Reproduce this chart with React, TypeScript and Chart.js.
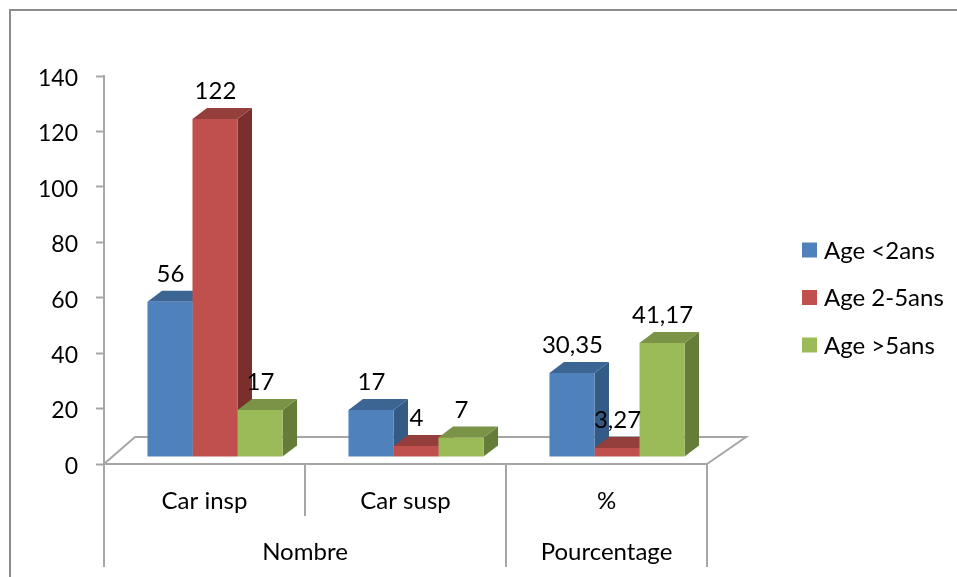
import React, { useEffect, useRef } from "react";
import { Chart, registerables } from "chart.js";

Chart.register(...registerables);

const categories = ["Car insp", "Car susp", "%"];
const groupLabels = ["Nombre", "Pourcentage"];
const groupSpans = [2, 1];
const yTicks = [0, 20, 40, 60, 80, 100, 120, 140];
const ageUnder2 = [56, 17, 30.35];
const age2to5 = [122, 4, 3.27];
const ageOver5 = [17, 7, 41.17];
const seriesNames = ["Age <2ans", "Age 2-5ans", "Age >5ans"];
const frontColors = ["#4f81bd", "#c0504d", "#9bbb59"];
const topColors = ["#3c6594", "#943f3c", "#7a9346"];
const sideColors = ["#345a86", "#7b2f2d", "#667d3a"];

const FONT = "Lato, Carlito, sans-serif";
const AXIS = "#a6a6a6";
const SHIFT_X = 10.5;
const SHIFT_Y = -7;
const DEPTH_X = 14.5;
const DEPTH_Y = -11;
const FLOOR_BACK_LEFT = 31;
const FLOOR_BACK_RIGHT = 39;
const FLOOR_Y = -27;

const fill = (ctx: CanvasRenderingContext2D, pts: number[][], color: string) => {
  ctx.beginPath();
  pts.forEach(([x, y], i) => (i ? ctx.lineTo(x, y) : ctx.moveTo(x, y)));
  ctx.closePath();
  ctx.fillStyle = color;
  ctx.fill();
};

const stroke = (ctx: CanvasRenderingContext2D, pts: number[][], color: string, w = 2) => {
  ctx.beginPath();
  pts.forEach(([x, y], i) => (i ? ctx.lineTo(x, y) : ctx.moveTo(x, y)));
  ctx.strokeStyle = color;
  ctx.lineWidth = w;
  ctx.stroke();
};

const threeD = {
  id: "threeD",
  beforeDatasetsDraw(chart: any) {
    const { ctx, chartArea: a, scales } = chart;
    const b = scales.y.getPixelForValue(0);
    ctx.save();
    // floor of the 3D plot
    stroke(
      ctx,
      [
        [a.left, b],
        [a.left + FLOOR_BACK_LEFT, b + FLOOR_Y],
        [a.right + FLOOR_BACK_RIGHT, b + FLOOR_Y],
        [a.right, b],
      ],
      AXIS,
    );
    ctx.translate(SHIFT_X, SHIFT_Y);
    const n = chart.data.labels.length;
    for (let c = 0; c < n; c++) {
      chart.data.datasets.forEach((_: any, d: number) => {
        const el = chart.getDatasetMeta(d).data[c];
        const l = el.x - el.width / 2;
        const r = el.x + el.width / 2;
        const t = el.y;
        const bot = el.base;
        fill(
          ctx,
          [
            [r, t],
            [r + DEPTH_X, t + DEPTH_Y],
            [r + DEPTH_X, bot + DEPTH_Y],
            [r, bot],
          ],
          sideColors[d],
        );
        fill(
          ctx,
          [
            [l, t],
            [l + DEPTH_X, t + DEPTH_Y],
            [r + DEPTH_X, t + DEPTH_Y],
            [r, t],
          ],
          topColors[d],
        );
      });
    }
    // fronts are the library's own bars, drawn in this shifted space
  },
  afterDatasetsDraw(chart: any) {
    const { ctx, chartArea: a, scales } = chart;
    ctx.restore();
    ctx.save();
    ctx.font = `24px ${FONT}`;
    ctx.textAlign = "center";
    ctx.textBaseline = "alphabetic";
    ctx.fillStyle = "#000";
    chart.data.datasets.forEach((ds: any, d: number) => {
      chart.getDatasetMeta(d).data.forEach((el: any, i: number) => {
        const txt = String(ds.data[i]).replace(".", ",");
        ctx.fillText(txt, el.x + SHIFT_X + 0.5, el.y + SHIFT_Y + DEPTH_Y - 8.5);
      });
    });

    // multi-level category axis
    const bottom = 567;
    const step = (a.right - a.left) / categories.length;
    const b = scales.y.getPixelForValue(0);
    let idx = 0;
    stroke(ctx, [[a.left, b], [a.left, bottom]], AXIS);
    groupLabels.forEach((g, i) => {
      const x0 = a.left + idx * step;
      const x1 = a.left + (idx + groupSpans[i]) * step;
      for (let k = 1; k < groupSpans[i]; k++) {
        const xk = x0 + k * step;
        stroke(ctx, [[xk, b], [xk, 516]], AXIS);
      }
      stroke(ctx, [[x1, b], [x1, bottom]], AXIS);
      ctx.textBaseline = "middle";
      ctx.fillText(g, (x0 + x1) / 2, 552);
      idx += groupSpans[i];
    });

    // legend
    ctx.textAlign = "left";
    chart.data.datasets.forEach((ds: any, d: number) => {
      const cy = 250 + d * 47.5;
      ctx.fillStyle = frontColors[d];
      ctx.fillRect(802, cy - 7.5, 15, 15);
      ctx.fillStyle = "#000";
      ctx.fillText(ds.label, 824, cy + 1);
    });
    ctx.restore();

    // outer frame
    ctx.save();
    stroke(ctx, [[10, 577], [10, 10], [957, 10]], "#8c8c8c");
    ctx.restore();
  },
};

export default function App() {
  const ref = useRef<HTMLCanvasElement>(null);
  useEffect(() => {
    const chart = new Chart(ref.current!, {
      type: "bar",
      data: {
        labels: categories,
        datasets: [ageUnder2, age2to5, ageOver5].map((data, i) => ({
          label: seriesNames[i],
          data,
          backgroundColor: frontColors[i],
          borderWidth: 0,
          categoryPercentage: 0.672,
          barPercentage: 1,
        })),
      },
      options: {
        responsive: false,
        animation: false,
        layout: { padding: { top: 76, right: 250, left: 0, bottom: 0 } },
        plugins: { legend: { display: false }, title: { display: false }, tooltip: { enabled: false } },
        scales: {
          x: {
            afterFit: (s: any) => {
              s.height = 113;
            },
            grid: { display: false, drawTicks: false },
            border: { color: AXIS, width: 2 },
            ticks: { color: "#000", font: { family: FONT, size: 24 }, padding: 23, maxRotation: 0 },
          },
          y: {
            min: 0,
            max: 140,
            afterFit: (s: any) => {
              s.width = 104;
            },
            afterBuildTicks: (s: any) => {
              s.ticks = yTicks.map((value) => ({ value }));
            },
            grid: { drawOnChartArea: false, color: AXIS, tickLength: 8, tickWidth: 2 },
            border: { color: AXIS, width: 2 },
            ticks: { color: "#000", font: { family: FONT, size: 23 }, padding: 18, labelOffset: 2.5 },
          },
        },
      },
      plugins: [threeD],
    } as any);
    return () => chart.destroy();
  }, []);
  return (
    <div style={{ position: "absolute", left: 0, top: 0, width: 957, height: 577 }}>
      <canvas ref={ref} width={957} height={577} style={{ display: "block" }} />
    </div>
  );
}
